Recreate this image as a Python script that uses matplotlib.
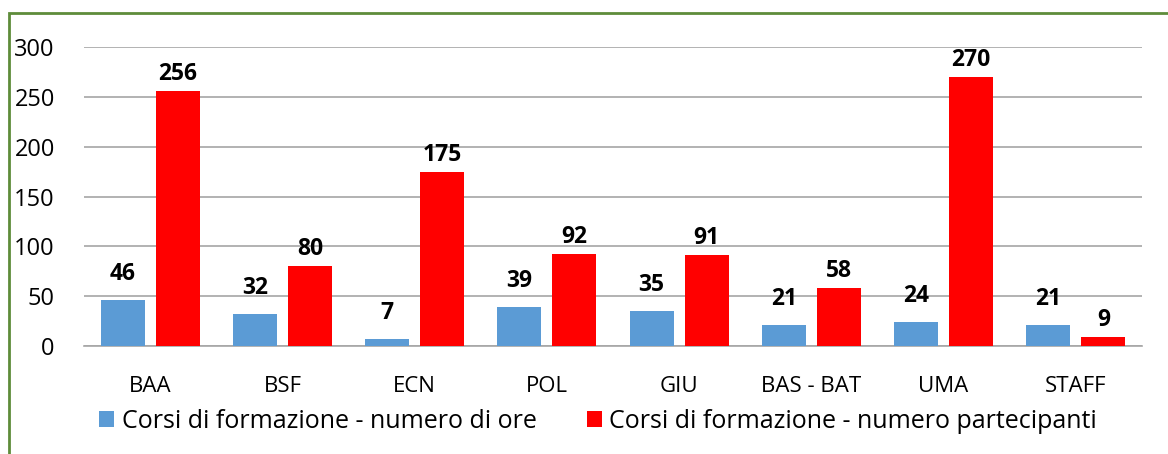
import matplotlib.pyplot as plt
import numpy as np
from matplotlib.patches import Rectangle

plt.rcParams['font.family'] = ['Open Sans', 'DejaVu Sans']

categories = ['BAA', 'BSF', 'ECN', 'POL', 'GIU', 'BAS - BAT', 'UMA', 'STAFF']
ore = [46, 32, 7, 39, 35, 21, 24, 21]
partecipanti = [256, 80, 175, 92, 91, 58, 270, 9]
series_names = ['Corsi di formazione - numero di ore',
                'Corsi di formazione - numero partecipanti']

blue = '#5B9BD5'
red = '#FF0000'

fig = plt.figure(figsize=(11.68, 4.54), dpi=100)
ax = fig.add_axes([84 / 1168, 1 - 346 / 454, (1142 - 84) / 1168, (346 - 47) / 454])

x = np.arange(len(categories))
w = 0.333
off = 0.208
b1 = ax.bar(x - off, ore, w, color=blue, label=series_names[0], zorder=3)
b2 = ax.bar(x + off, partecipanti, w, color=red, label=series_names[1], zorder=3)

for rect, v in zip(b1, ore):
    ax.annotate(str(v), (rect.get_x() + rect.get_width() / 2, v),
                xytext=(0, 10), textcoords='offset points',
                ha='center', va='bottom', fontsize=16.5, fontweight='bold', color='black')
for rect, v in zip(b2, partecipanti):
    ax.annotate(str(v), (rect.get_x() + rect.get_width() / 2, v),
                xytext=(0, 3.5), textcoords='offset points',
                ha='center', va='bottom', fontsize=16.5, fontweight='bold', color='black')

ax.set_xlim(-0.5, len(categories) - 0.5)
ax.set_ylim(0, 300)
ax.set_yticks(range(0, 301, 50))
ax.set_xticks(x)
ax.set_xticklabels(categories)
ax.yaxis.grid(True, color='#A6A6A6', linewidth=1.2, zorder=0)
ax.set_axisbelow(True)
for s in ['top', 'right', 'left']:
    ax.spines[s].set_visible(False)
ax.spines['bottom'].set_color('#A6A6A6')
ax.spines['bottom'].set_linewidth(1.2)
ax.tick_params(axis='y', length=0, pad=21, labelsize=17)
ax.tick_params(axis='x', length=0, pad=21.5, labelsize=16)

fig.legend(handles=[b1, b2], loc='center', bbox_to_anchor=(598 / 1168, 1 - 421 / 454),
           ncol=2, frameon=False, fontsize=18, handlelength=0.6, handleheight=0.6,
           handletextpad=0.3, columnspacing=2.0)

# green frame around the chart (cut off at right and bottom)
fig.patches.append(Rectangle((9 / 1168, -0.1), 1.2, 1 - 13 / 454 + 0.1,
                             transform=fig.transFigure, fill=False,
                             edgecolor='#5E8C3A', linewidth=2, figure=fig))

fig.savefig('out.png', dpi=100)
